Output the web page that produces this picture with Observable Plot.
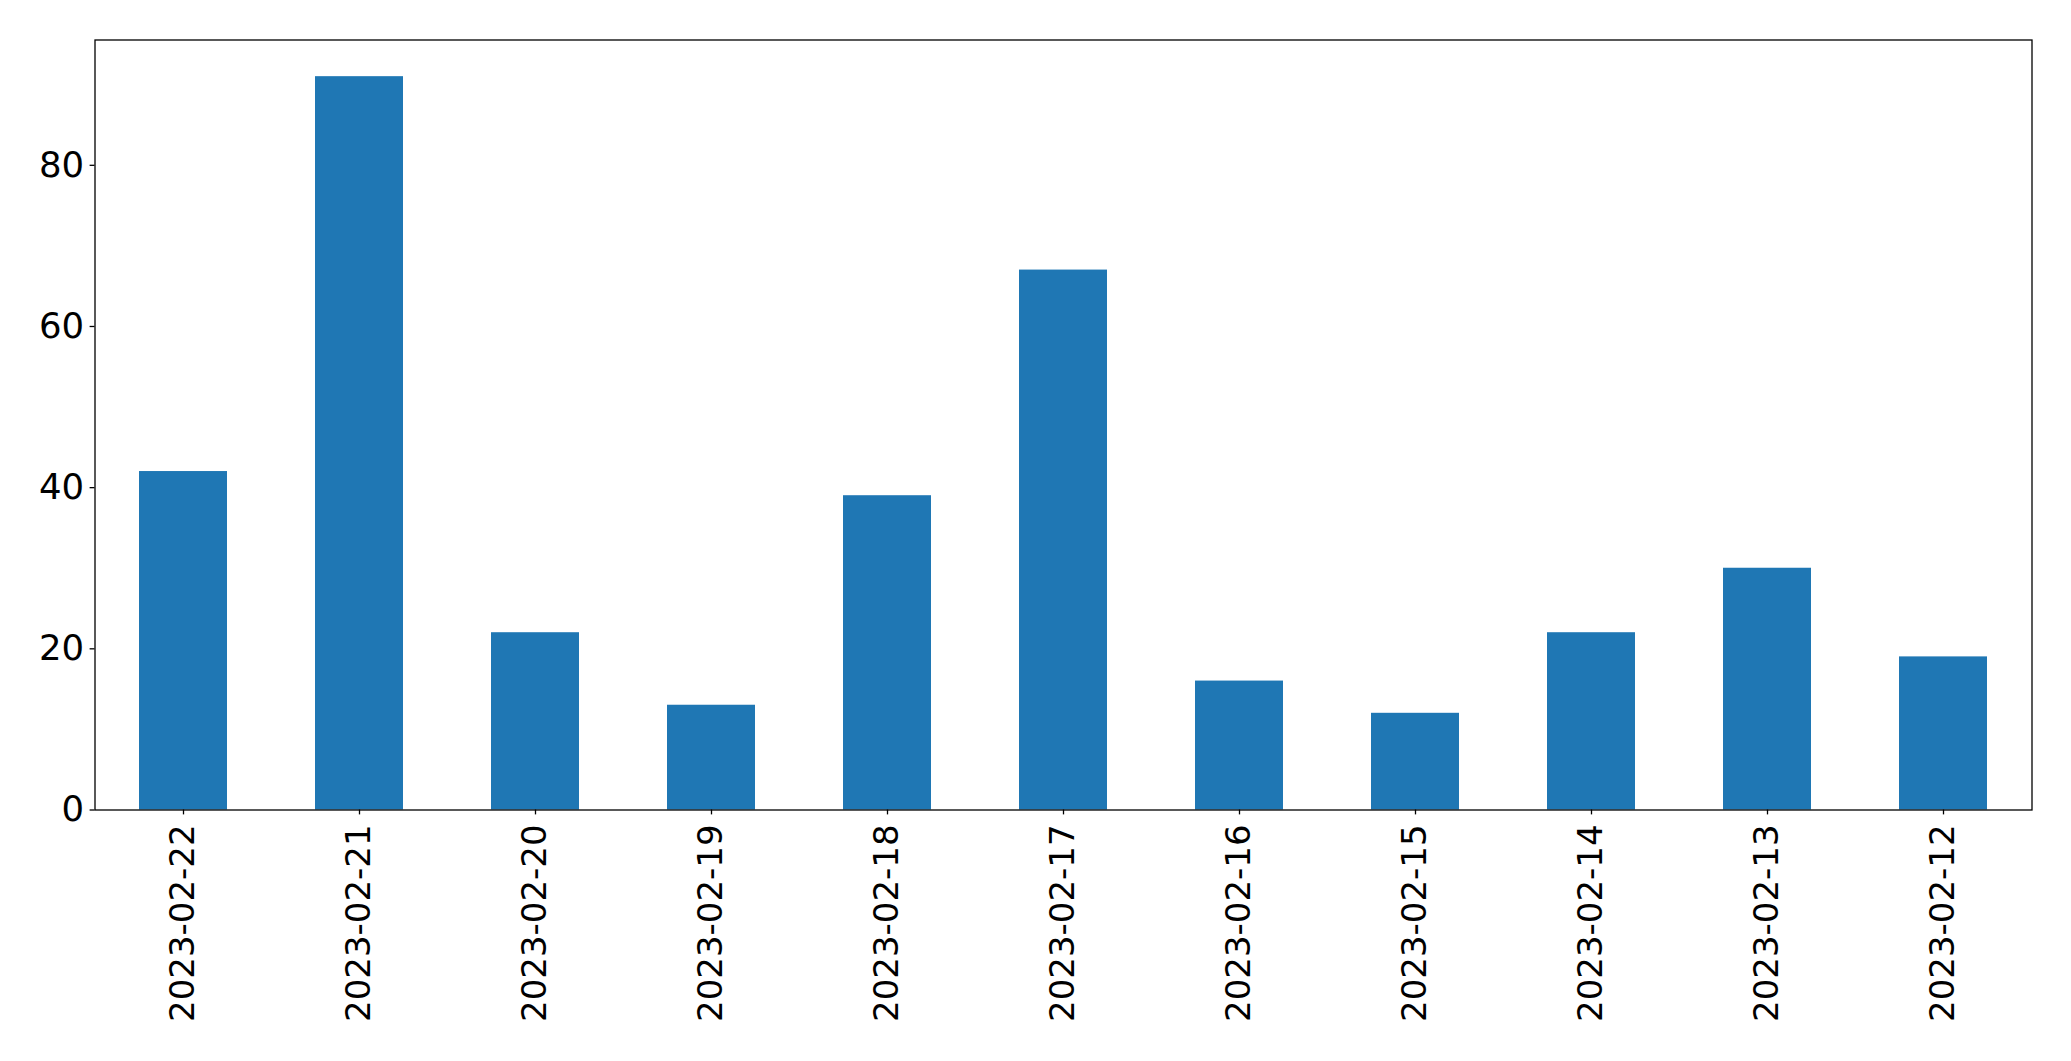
<!DOCTYPE html>
<html>
<head>
<meta charset="utf-8">
<script src="https://cdn.jsdelivr.net/npm/d3@7"></script>
<script src="https://cdn.jsdelivr.net/npm/@observablehq/plot@0.6"></script>
<style>
  html, body { margin: 0; padding: 0; background: #fff; }
  #chart { width: 2071px; height: 1061px; }
</style>
</head>
<body>
<div id="chart"></div>
<script>
const dates = ["2023-02-22","2023-02-21","2023-02-20","2023-02-19","2023-02-18","2023-02-17","2023-02-16","2023-02-15","2023-02-14","2023-02-13","2023-02-12"];
const values = [42, 91, 22, 13, 39, 67, 16, 12, 22, 30, 19];
const yTicks = [0, 20, 40, 60, 80];

const data = dates.map((d, i) => ({date: d, value: values[i]}));

const chart = Plot.plot({
  width: 2071,
  height: 1061,
  marginLeft: 94.5,
  marginRight: 39.5,
  marginTop: 39.5,
  marginBottom: 251.5,
  style: {fontFamily: "DejaVu Sans", color: "#000", background: "#fff"},
  x: {domain: dates, paddingInner: 0.5, paddingOuter: 0.25, align: 0.5, label: null},
  y: {domain: [0, 95.55], label: null},
  marks: [
    Plot.barY(data, {x: "date", y: "value", fill: "#1f77b4"}),
    Plot.frame({stroke: "#000", strokeWidth: 1.3}),
    Plot.axisY({ticks: yTicks, tickSize: 4.9, tickPadding: 6, fontSize: 35.5, label: null, strokeWidth: 1.3}),
    Plot.axisX({tickSize: 4.9, tickPadding: 9.5, tickRotate: -90, fontSize: 34, label: null, strokeWidth: 1.3})
  ]
});
document.getElementById("chart").appendChild(chart);
</script>
</body>
</html>
